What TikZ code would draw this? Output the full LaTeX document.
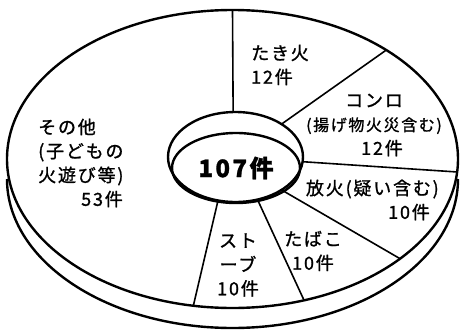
\documentclass[tikz,border=0pt]{standalone}
\usepackage{fontspec}
\setmainfont{Noto Sans CJK JP}[LetterSpace=10, FakeBold=1.2]
\usetikzlibrary{calc}

\tikzset{
  rim/.style={line width=2.4pt},
  divider/.style={line width=1.6pt},
  txt/.style={inner sep=0pt, font=\fontsize{18}{24}\selectfont}
}

\begin{document}
\begin{tikzpicture}[x=1pt, y=-1pt]

    \useasboundingbox (0,0) rectangle (464,330);

    % Centres of the disc, the hole and the hole's floor
    \coordinate (O) at (232.5,159);
    \coordinate (R) at (232.5,179); % rim, shifted down
    \coordinate (H) at (235.5,157);
    \coordinate (I) at (236,168);

    % Top face and the lower edge of the rim
    \draw[rim] (O) ellipse (225.5 and 149);
    \draw[rim] (R) ++(0:225.5 and 149) arc (0:180:225.5 and 149);

    % The hole in the middle
    \draw[rim] (H) ellipse (67.5 and 45);
    \draw[rim] (I) ellipse (64 and 35);

    % Dividers: angle on the hole / angle on the outer edge
    \foreach \a/\b in {-92/-90, -47/-47, 6/5, 47/42, 71/71.5, 105/100}
        \draw[divider] ($(H)+(\a:67.5 and 45)$) -- ($(O)+(\b:225.5 and 149)$);

    % Labels
    \node[txt, anchor=west, align=left] (takibi) at (251,65) {たき火\\12件};
    \node[txt, align=center] (konro) at (374,125)
        {コンロ\\{\fontsize{16}{24}\selectfont(揚げ物火災含む)}\\\hspace*{16pt}12件};
    \node[txt, anchor=east, align=right] (houka) at (439,200) {放火(疑い含む)\\10件\hspace*{9pt}};
    \node[txt, align=center] (tabako) at (313,251) {たばこ\\10件};
    \node[txt, align=center] (stove) at (238,265) {スト\\ーブ\\10件};
    \node[txt, anchor=west, align=left] (sonota) at (38,163)
        {その他\\(子どもの\\火遊び等)\\\hspace*{43pt}53件};
    \node[inner sep=0pt, font=\fontsize{24}{28}\selectfont\bfseries] (total) at (I) {107件};

\end{tikzpicture}
\end{document}
